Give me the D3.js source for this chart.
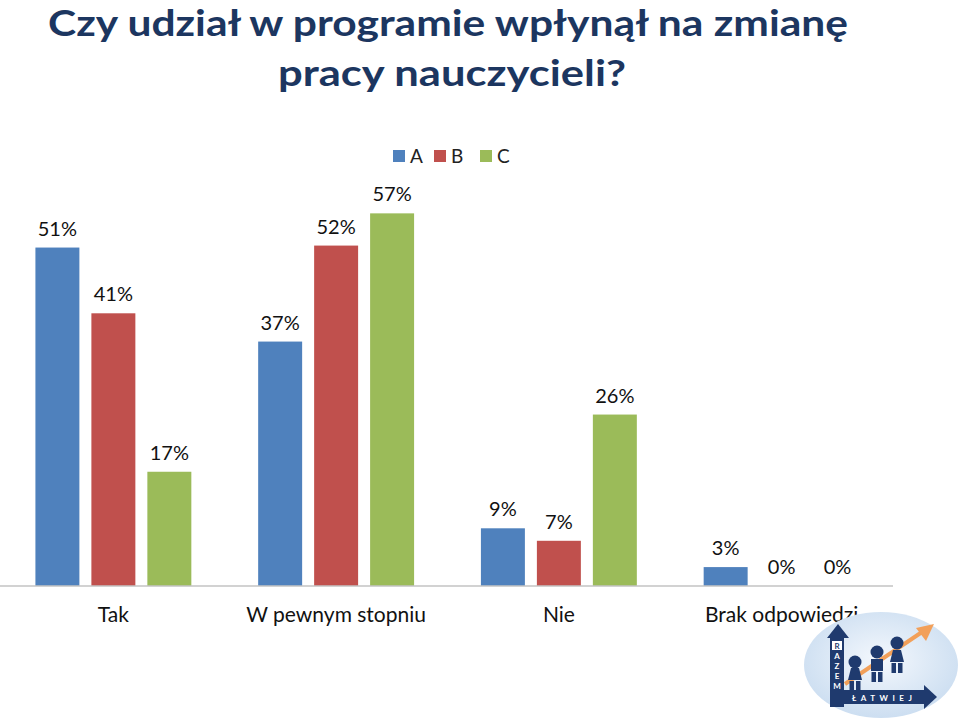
<!DOCTYPE html>
<html>
<head>
<meta charset="utf-8">
<script src="https://cdn.jsdelivr.net/npm/d3@7"></script>
<style>
  html, body { margin: 0; padding: 0; background: #fff; }
  svg { display: block; }
</style>
</head>
<body>
<svg id="chart" width="960" height="720"></svg>
<script>
const titleLines = ["Czy udział w programie wpłynął na zmianę", "pracy nauczycieli?"];
const categories = ["Tak", "W pewnym stopniu", "Nie", "Brak odpowiedzi"];
const seriesNames = ["A", "B", "C"];
const seriesA = [51.4, 37.1, 8.7, 2.8];
const seriesB = [41.4, 51.7, 6.8, 0];
const seriesC = [17.3, 56.6, 26.0, 0];
const seriesColors = ["#4f81bd", "#c0504d", "#9bbb59"];

const allSeries = [seriesA, seriesB, seriesC];
const table = categories.map((c, i) => ({
  category: c,
  values: seriesNames.map((s, j) => ({ series: s, value: allSeries[j][i] }))
}));

const svg = d3.select("#chart");
const font = "Lato, 'Open Sans', 'DejaVu Sans', sans-serif";

// Title
svg.append("text").attr("x", 448).attr("y", 36).attr("text-anchor", "middle")
  .attr("font-family", font).attr("font-weight", 700).attr("font-size", 37)
  .attr("fill", "#1c3660")
  .attr("textLength", 800).attr("lengthAdjust", "spacingAndGlyphs")
  .text(titleLines[0]);
svg.append("text").attr("x", 452).attr("y", 86).attr("text-anchor", "middle")
  .attr("font-family", font).attr("font-weight", 700).attr("font-size", 37)
  .attr("fill", "#1c3660")
  .attr("textLength", 348).attr("lengthAdjust", "spacingAndGlyphs")
  .text(titleLines[1]);

// Scales
const x0 = d3.scaleBand().domain(categories).range([2, 893])
  .paddingInner(0.3).paddingOuter(0.15);
const x1 = d3.scaleBand().domain(seriesNames).range([0, x0.bandwidth()])
  .paddingInner(12 / 56).paddingOuter(0);
const y = d3.scaleLinear().domain([0, 60]).range([585.5, 191]);
const color = d3.scaleOrdinal().domain(seriesNames).range(seriesColors);

// Bars
const groups = svg.append("g").selectAll("g").data(table).join("g")
  .attr("transform", d => `translate(${x0(d.category)},0)`);

groups.selectAll("rect").data(d => d.values).join("rect")
  .attr("x", d => x1(d.series))
  .attr("y", d => y(d.value))
  .attr("width", x1.bandwidth())
  .attr("height", d => y(0) - y(d.value))
  .attr("fill", d => color(d.series));

groups.selectAll("text.lbl").data(d => d.values).join("text")
  .attr("class", "lbl")
  .attr("x", d => x1(d.series) + x1.bandwidth() / 2)
  .attr("y", d => y(d.value) - 12)
  .attr("text-anchor", "middle")
  .attr("font-family", font).attr("font-size", 20).attr("fill", "#111")
  .text(d => Math.round(d.value) + "%");

// Axis
const xAxis = d3.axisBottom(x0).tickSize(0).tickPadding(22);
const axisG = svg.append("g").attr("transform", `translate(0,${y(0)})`).call(xAxis);
axisG.select(".domain").attr("stroke", "#a6a6a6").attr("stroke-width", 1.2)
  .attr("d", "M0,0.5H893");
axisG.selectAll(".tick text").attr("font-family", font).attr("font-size", 21)
  .attr("fill", "#111").attr("dy", "0.71em");

// Legend
const legend = svg.append("g").selectAll("g").data(seriesNames).join("g")
  .attr("transform", (d, i) => `translate(${[393, 434, 480][i]},150)`);
legend.append("rect").attr("width", 12).attr("height", 12).attr("fill", d => color(d));
legend.append("text").attr("x", 17).attr("y", 13)
  .attr("font-family", font).attr("font-size", 19).attr("fill", "#222")
  .text(d => d);

// Logo (decorative)
const logo = svg.append("g");
const defs = svg.append("defs");
const grad = defs.append("radialGradient").attr("id", "lg").attr("cx", "50%").attr("cy", "45%").attr("r", "60%");
grad.append("stop").attr("offset", "0%").attr("stop-color", "#f4f8fd");
grad.append("stop").attr("offset", "100%").attr("stop-color", "#c9dcf0");
logo.append("ellipse").attr("cx", 881).attr("cy", 665).attr("rx", 77).attr("ry", 53).attr("fill", "url(#lg)");
const navy = "#1f3a6e";
// orange arrow
logo.append("line").attr("x1", 845).attr("y1", 684).attr("x2", 925).attr("y2", 630)
  .attr("stroke", "#f2a05a").attr("stroke-width", 4);
logo.append("path").attr("d", "M934,624 L916,628 L926,641 Z").attr("fill", "#f2a05a");
// vertical arrow
logo.append("rect").attr("x", 830).attr("y", 637).attr("width", 14).attr("height", 70).attr("fill", navy);
logo.append("path").attr("d", "M838,624 L827,638 L849,638 Z").attr("fill", navy);
// horizontal arrow
logo.append("rect").attr("x", 830).attr("y", 690).attr("width", 96).attr("height", 14).attr("fill", navy);
logo.append("path").attr("d", "M937,697 L924,685 L924,709 Z").attr("fill", navy);
logo.append("rect").attr("x", 832).attr("y", 641).attr("width", 10).attr("height", 9).attr("fill", "#fff");
["R", "A", "Z", "E", "M"].forEach((c, i) => {
  logo.append("text").attr("x", 837).attr("y", 649 + i * 10).attr("text-anchor", "middle")
    .attr("font-family", font).attr("font-weight", 700).attr("font-size", 8)
    .attr("fill", i === 0 ? navy : "#fff").text(c);
});
logo.append("text").attr("x", 852).attr("y", 700.5)
  .attr("font-family", font).attr("font-weight", 700).attr("font-size", 8)
  .attr("fill", "#fff").attr("letter-spacing", 4.5).text("ŁATWIEJ");
// figures
const people = [
  { hx: 855, hy: 662, by: 668, dress: true },
  { hx: 877, hy: 652, by: 659, dress: false },
  { hx: 897, hy: 643, by: 650, dress: true }
];
people.forEach(p => {
  logo.append("circle").attr("cx", p.hx).attr("cy", p.hy).attr("r", 6.5).attr("fill", navy);
  if (p.dress) {
    logo.append("path").attr("d", `M${p.hx - 4},${p.by} L${p.hx + 4},${p.by} L${p.hx + 7},${p.by + 12} L${p.hx - 7},${p.by + 12} Z`).attr("fill", navy);
  } else {
    logo.append("rect").attr("x", p.hx - 6).attr("y", p.by).attr("width", 12).attr("height", 12).attr("fill", navy);
  }
  logo.append("rect").attr("x", p.hx - 5.5).attr("y", p.by + 13).attr("width", 4.5).attr("height", 10).attr("fill", navy);
  logo.append("rect").attr("x", p.hx + 1).attr("y", p.by + 13).attr("width", 4.5).attr("height", 10).attr("fill", navy);
});
</script>
</body>
</html>
